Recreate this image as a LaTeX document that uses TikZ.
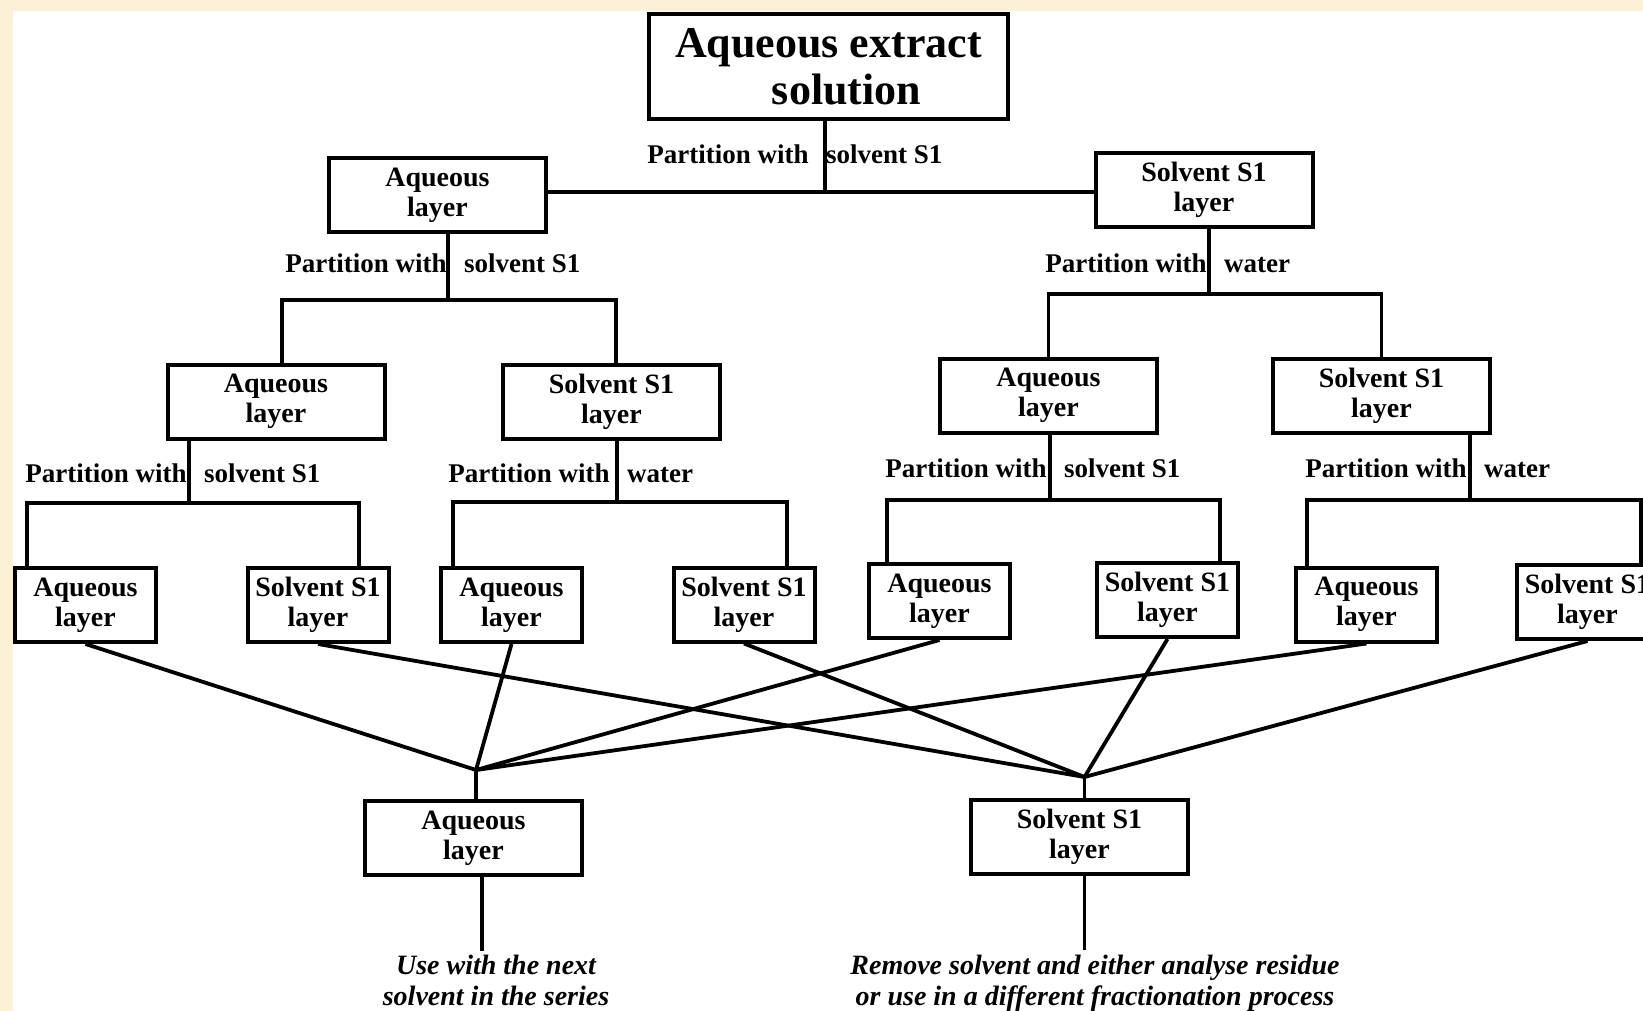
\documentclass[tikz,border=0pt]{standalone}
\usepackage{fontspec}
\setmainfont{Liberation Serif}
\definecolor{cream}{RGB}{252,240,214}

\begin{document}
\begin{tikzpicture}[x=0.5pt, y=-0.5pt,
    box/.style = {draw, line width=2pt, fill=white, align=center, inner sep=0pt, minimum height=37pt, font=\fontsize{14}{15}\selectfont\bfseries},
    wide/.style = {box, minimum width=108.5pt},
    narrow/.style = {box, minimum width=70.5pt},
    part/.style = {anchor=base west, inner sep=0pt, font=\fontsize{13.5}{15}\selectfont\bfseries},
    note/.style = {anchor=north, align=center, inner sep=0pt, font=\fontsize{14}{15.3}\selectfont\bfseries\itshape},
    link/.style = {line width=1.9pt}]
    % page
    \fill[cream] (0,0) rectangle (1643,1011);
    \fill[white] (13,11) rectangle (1643,1011);
    \useasboundingbox (0,0) rectangle (1643,1011);

    % boxes
    \node[box, minimum width=179.5pt, minimum height=52.5pt, font=\fontsize{22}{23.5}\selectfont\bfseries] (extract) at (828.5,66.5) {Aqueous extract\\\hspace*{18pt}solution};
    \node[wide] (aq) at (437.5,195) {Aqueous\\layer};
    \node[wide] (sv) at (1204,190) {Solvent S1\\layer};
    \node[wide] (aqaq) at (276,401.5) {Aqueous\\layer};
    \node[wide] (aqsv) at (611.5,401.5) {Solvent S1\\layer};
    \node[wide] (svaq) at (1048.5,395.5) {Aqueous\\layer};
    \node[wide] (svsv) at (1381.5,395.5) {Solvent S1\\layer};
    \node[narrow] (f1) at (85.5,605) {Aqueous\\layer};
    \node[narrow] (f2) at (318,605) {Solvent S1\\layer};
    \node[narrow] (f3) at (511.5,605) {Aqueous\\layer};
    \node[narrow] (f4) at (744,604.5) {Solvent S1\\layer};
    \node[narrow] (f5) at (939.5,601) {Aqueous\\layer};
    \node[narrow] (f6) at (1167.5,600) {Solvent S1\\layer};
    \node[narrow] (f7) at (1366.5,604.5) {Aqueous\\layer};
    \node[narrow] (f8) at (1587.5,602) {Solvent S1\\layer};
    \node[wide] (outaq) at (473.5,838) {Aqueous\\layer};
    \node[wide] (outsv) at (1079.5,837) {Solvent S1\\layer};

    % partition labels
    \node[part] (p0) at (647,163) {Partition with\hspace{.65em}solvent S1};
    \node[part] (p1) at (285,272) {Partition with\hspace{.65em}solvent S1};
    \node[part] (p2) at (1045,272) {Partition with\hspace{.65em}water};
    \node[part] (p3) at (25,482) {Partition with\hspace{.65em}solvent S1};
    \node[part] (p4) at (448,482) {Partition with\hspace{.65em}water};
    \node[part] (p5) at (885,477) {Partition with\hspace{.65em}solvent S1};
    \node[part] (p6) at (1305,477) {Partition with\hspace{.65em}water};

    % what to do next
    \node[note] (nextuse) at (496,955) {Use with the next\\solvent in the series};
    \node[note] (residue) at (1095,955) {Remove solvent and either analyse residue\\or use in a different fractionation process};

    % junctions
    \coordinate (j0) at (825,192);
    \coordinate (j1) at (448,300);
    \coordinate (j2) at (1209,294);
    \coordinate (j3) at (189,503);
    \coordinate (j4) at (617,502);
    \coordinate (j5) at (1050,500);
    \coordinate (j6) at (1470,500);
    \coordinate (cL) at (476,770);
    \coordinate (cR) at (1084.5,777);
    \coordinate (eL) at (482,951);
    \coordinate (eR) at (1084.5,950);

    % tree
    \draw[link] (extract.south -| j0) -- (j0);
    \draw[link] (aq.east |- j0) -- (sv.west |- j0);
    \draw[link] (aq.south -| j1) -- (j1);
    \draw[link] ([xshift=3pt]aqaq.north) |- (j1) -| ([xshift=2.25pt]aqsv.north);
    \draw[link] (sv.south -| j2) -- (j2);
    \draw[link] (svaq.north) |- (j2) -| (svsv.north);
    \draw[link] (aqaq.south -| j3) -- (j3);
    \draw[link] ([xshift=-29.25pt]f1.north) |- (j3) -| ([xshift=20.5pt]f2.north);
    \draw[link] (aqsv.south -| j4) -- (j4);
    \draw[link] ([xshift=-29.25pt]f3.north) |- (j4) -| ([xshift=21.5pt]f4.north);
    \draw[link] (svaq.south -| j5) -- (j5);
    \draw[link] ([xshift=-26.25pt]f5.north) |- (j5) -| ([xshift=26.25pt]f6.north);
    \draw[link] (svsv.south -| j6) -- (j6);
    \draw[link] ([xshift=-29.75pt]f7.north) |- (j6) -| ([xshift=26.75pt]f8.north);

    % pooling
    \draw[link] (f1.south) -- (cL);
    \draw[link] (f3.south) -- (cL);
    \draw[link] (f5.south) -- (cL);
    \draw[link] (f7.south) -- (cL);
    \draw[link] (f2.south) -- (cR);
    \draw[link] (f4.south) -- (cR);
    \draw[link] (f6.south) -- (cR);
    \draw[link] (f8.south) -- (cR);
    \draw[link] (cL) -- (outaq.north -| cL);
    \draw[link] (cR) -- (outsv.north -| cR);
    \draw[link] (outaq.south -| eL) -- (eL);
    \draw[link] (outsv.south -| eR) -- (eR);
\end{tikzpicture}
\end{document}
